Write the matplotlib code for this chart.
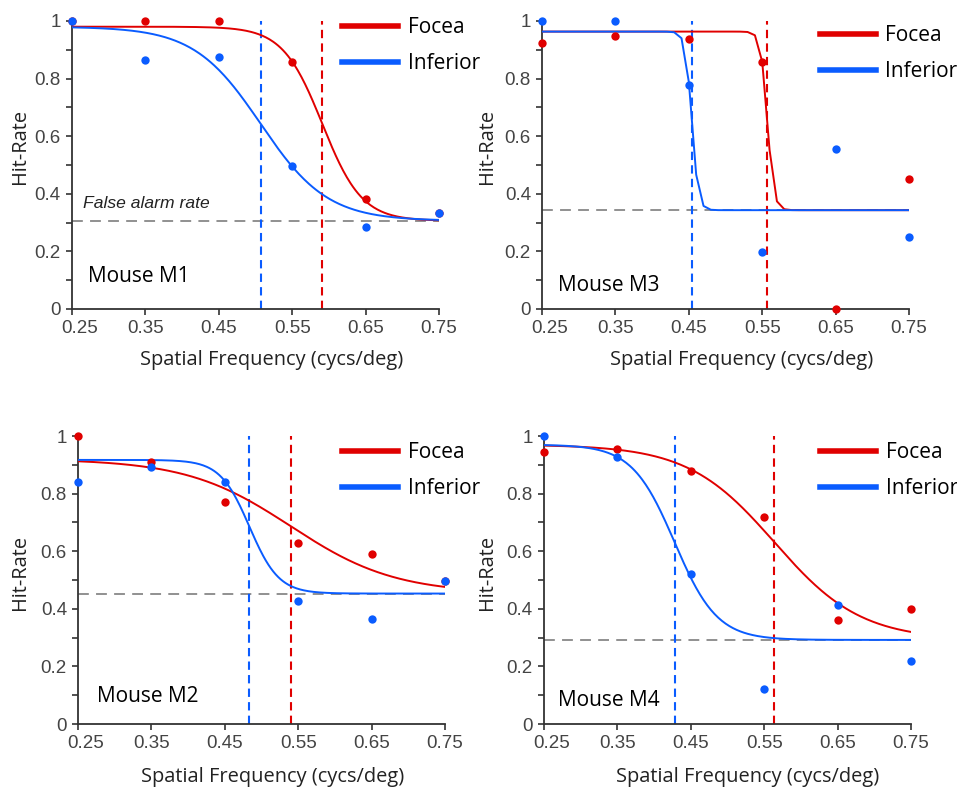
import matplotlib
matplotlib.use("Agg")
import matplotlib.pyplot as plt
from matplotlib.transforms import ScaledTranslation
import numpy as np

freq = [0.25, 0.35, 0.45, 0.55, 0.65, 0.75]

# measured hit rates (fovea / inferior) per mouse
m1_focea = [1.00, 1.00, 1.00, 0.857, 0.383, 0.332]
m1_inferior = [1.00, 0.865, 0.874, 0.498, 0.283, 0.332]
m3_focea = [0.922, 0.947, 0.936, 0.857, 0.00, 0.452]
m3_inferior = [1.00, 1.00, 0.777, 0.198, 0.554, 0.249]
m2_focea = [1.00, 0.909, 0.772, 0.630, 0.591, 0.498]
m2_inferior = [0.842, 0.892, 0.842, 0.427, 0.366, 0.498]
m4_focea = [0.946, 0.955, 0.879, 0.720, 0.361, 0.398]
m4_inferior = [1.00, 0.927, 0.520, 0.123, 0.412, 0.220]

# psychometric fits: (threshold, width, top); floor = false alarm rate
false_alarm = {"M1": 0.306, "M3": 0.343, "M2": 0.453, "M4": 0.292}
fit_focea = {"M1": (0.591, 0.027, 0.98), "M3": (0.557, 0.0044, 0.963),
             "M2": (0.540, 0.071, 0.92), "M4": (0.564, 0.059, 0.97)}
fit_inferior = {"M1": (0.507, 0.0455, 0.98), "M3": (0.454, 0.0043, 0.963),
                "M2": (0.4836, 0.020, 0.917), "M4": (0.428, 0.029, 0.97)}

RED = "#e00000"
BLUE = "#0a5cff"
TXT = "#222222"


def fit_curve(x, p, floor):
    x0, s, top = p
    return floor + (top - floor) / (1.0 + np.exp((x - x0) / s))


panels = [
    ("M1", m1_focea, m1_inferior, [0.0752, 0.6089, 0.3835, 0.3646],
     (-0.142, 0.566), (0.545, -0.177), (0.044, 0.111), (0.736, 1.012), True),
    ("M3", m3_focea, m3_inferior, [0.5664, 0.6089, 0.3835, 0.3646],
     (-0.150, 0.566), (0.545, -0.177), (0.044, 0.08), (0.757, 0.985), False),
    ("M2", m2_focea, m2_inferior, [0.0815, 0.0835, 0.3835, 0.3646],
     (-0.158, 0.528), (0.529, -0.184), (0.052, 0.097), (0.719, 0.978), False),
    ("M4", m4_focea, m4_inferior, [0.5684, 0.0835, 0.3835, 0.3646],
     (-0.155, 0.528), (0.556, -0.184), (0.038, 0.08), (0.752, 0.978), False),
]

fig = plt.figure(figsize=(9.57, 7.9), dpi=100)

for name, foc, inf, rect, ylc, xlc, mpos, legpos, fa_text in panels:
    ax = fig.add_axes(rect)
    fa = false_alarm[name]
    # coarse sampling for M3 like the original
    if name == "M3":
        xs = np.arange(0.25, 0.7501, 0.01)
    else:
        xs = np.linspace(0.25, 0.75, 300)

    ax.plot(freq, [fa] * len(freq), color="#888888", lw=1.3, dashes=(6, 4), zorder=1)
    ax.axvline(fit_inferior[name][0], color=BLUE, lw=1.5, dashes=(4, 2.5), zorder=1)
    ax.axvline(fit_focea[name][0], color=RED, lw=1.5, dashes=(4, 2.5), zorder=1)

    ax.plot(xs, fit_curve(xs, fit_focea[name], fa), color=RED, lw=1.4, zorder=3)
    ax.plot(xs, fit_curve(xs, fit_inferior[name], fa), color=BLUE, lw=1.4, zorder=3)
    ax.scatter(freq, foc, s=36, color=RED, zorder=4, clip_on=False, linewidths=0)
    ax.scatter(freq, inf, s=36, color=BLUE, zorder=5, clip_on=False, linewidths=0)

    # legend handles
    ax.plot([], [], color=RED, lw=4, label="Focea")
    ax.plot([], [], color=BLUE, lw=4, label="Inferior")
    ax.legend(loc="upper left", bbox_to_anchor=legpos, frameon=False,
              handlelength=2.7, handletextpad=0.45,
              labelspacing=0.72, borderpad=0, borderaxespad=0,
              prop={"family": "Open Sans", "size": 15})

    ax.set_xlim(0.25, 0.75)
    ax.set_ylim(0, 1)
    ax.set_xticks(freq)
    ax.set_xticklabels(["%.2f" % f for f in freq])
    ax.set_yticks([0, 0.2, 0.4, 0.6, 0.8, 1.0])
    ax.set_yticklabels(["0", "0.2", "0.4", "0.6", "0.8", "1"])
    ax.set_yticks([0.1, 0.3, 0.5, 0.7, 0.9], minor=True)
    ax.tick_params(axis="both", which="both", direction="out", color="#333333",
                   width=1.2, labelsize=13.5, labelcolor="#444444", pad=4)
    ax.tick_params(which="major", length=4)
    ax.tick_params(which="minor", length=4)
    for lab in ax.get_xticklabels() + ax.get_yticklabels():
        lab.set_family("Liberation Sans")
    first = ax.get_xticklabels()[0]
    first.set_transform(first.get_transform() + ScaledTranslation(0.08, 0, fig.dpi_scale_trans))
    for sp in ["top", "right"]:
        ax.spines[sp].set_visible(False)
    for sp in ["left", "bottom"]:
        ax.spines[sp].set_color("#333333")
        ax.spines[sp].set_linewidth(1.3)

    ax.set_xlabel("Spatial Frequency (cycs/deg)", fontsize=14.4, family="Open Sans", color=TXT)
    ax.set_ylabel("Hit-Rate", fontsize=14.4, family="Open Sans", color=TXT)
    ax.xaxis.set_label_coords(*xlc)
    ax.yaxis.set_label_coords(*ylc)
    ax.xaxis.label.set_va("center")
    ax.yaxis.label.set_va("center")

    ax.text(mpos[0], mpos[1], "Mouse " + name, transform=ax.transAxes,
            fontsize=15, family="Open Sans", color="black", va="center", ha="left")
    if fa_text:
        ax.text(0.03, 0.365, "False alarm rate", transform=ax.transAxes,
                fontsize=12.6, style="italic", family="Liberation Sans", color=TXT,
                va="center", ha="left")

fig.savefig("out.png", dpi=100)
